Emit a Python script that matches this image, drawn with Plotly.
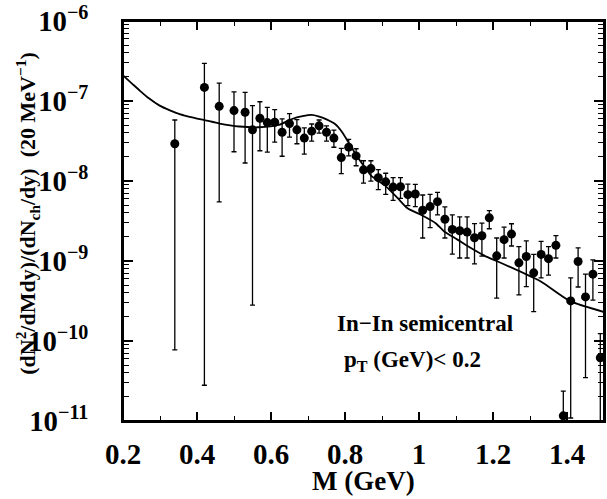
import plotly.graph_objects as go
import numpy as np

# ---- data ----
mass = [0.34, 0.42, 0.46, 0.50, 0.53, 0.55, 0.57, 0.59, 0.61, 0.63, 0.65, 0.67, 0.69, 0.71,
        0.73, 0.75, 0.77, 0.79, 0.81, 0.83, 0.85, 0.87, 0.89, 0.91, 0.93, 0.95, 0.97, 0.99,
        1.01, 1.03, 1.05, 1.07, 1.09, 1.11, 1.13, 1.15, 1.17, 1.19, 1.21, 1.23, 1.25, 1.27,
        1.29, 1.31, 1.33, 1.35, 1.37, 1.39, 1.41, 1.43, 1.45, 1.47, 1.49]
yield_val = [2.92e-8, 1.48e-7, 8.57e-8, 7.59e-8, 7.23e-8, 4.36e-8, 6.08e-8, 5.37e-8, 5.42e-8,
             4.07e-8, 5.22e-8, 4.36e-8, 3.44e-8, 4.20e-8, 4.89e-8, 4.07e-8, 3.44e-8, 1.96e-8,
             2.65e-8, 2.06e-8, 1.38e-8, 1.43e-8, 1.10e-8, 9.77e-9, 8.39e-9, 8.47e-9, 6.75e-9,
             6.87e-9, 4.31e-9, 4.79e-9, 5.52e-9, 3.33e-9, 2.48e-9, 2.39e-9, 2.30e-9, 1.95e-9,
             2.07e-9, 3.46e-9, 1.16e-9, 1.85e-9, 2.17e-9, 9.48e-10, 1.14e-9, 7.11e-10, 1.21e-9,
             1.07e-9, 1.57e-9, 1.16e-11, 3.17e-10, 9.86e-10, 3.56e-10, 6.85e-10, 6.17e-11]
yield_hi = [5.79e-8, 2.95e-7, 1.67e-7, 1.30e-7, 1.28e-7, 8.75e-8, 9.79e-8, 8.34e-8, 7.80e-8,
            5.97e-8, 6.95e-8, 5.86e-8, 4.61e-8, 5.16e-8, 5.79e-8, 4.89e-8, 4.32e-8, 2.56e-8,
            3.31e-8, 2.53e-8, 1.79e-8, 1.79e-8, 1.39e-8, 1.25e-8, 1.10e-8, 1.10e-8, 9.14e-9,
            9.06e-9, 6.68e-9, 6.81e-9, 7.19e-9, 4.74e-9, 3.78e-9, 3.56e-9, 3.56e-9, 2.94e-9,
            2.97e-9, 4.27e-9, 1.94e-9, 2.65e-9, 2.92e-9, 1.51e-9, 1.78e-9, 1.21e-9, 1.76e-9,
            1.51e-9, 2.07e-9, 2.36e-11, 6.17e-10, 1.46e-9, 6.85e-10, 1.03e-9, 1.24e-10]
yield_lo = [7.76e-11, 2.80e-11, 5.47e-9, 2.32e-8, 1.68e-8, 2.81e-10, 2.39e-8, 2.30e-8, 3.06e-8,
            2.04e-8, 3.53e-8, 2.92e-8, 2.17e-8, 3.16e-8, 3.96e-8, 3.16e-8, 2.64e-8, 1.24e-8,
            2.06e-8, 1.55e-8, 9.42e-9, 9.98e-9, 7.78e-9, 6.81e-9, 5.73e-9, 6.07e-9, 4.92e-9,
            4.79e-9, 1.94e-9, 2.62e-9, 3.78e-9, 1.94e-9, 1.22e-9, 1.09e-9, 1.09e-9, 9.20e-10,
            1.15e-9, 2.53e-9, 3.43e-10, 1.09e-9, 1.54e-9, 3.77e-10, 4.78e-10, 2.33e-10, 6.17e-10,
            6.67e-10, 1.09e-9, 1e-12, 1.09e-11, 4.73e-10, 3.48e-11, 3.24e-10, 1e-12]

model_m = [0.20, 0.225, 0.246, 0.27, 0.299, 0.325, 0.353, 0.39, 0.4225, 0.461, 0.514, 0.567,
           0.621, 0.657, 0.685, 0.71, 0.728, 0.75, 0.773, 0.791, 0.809, 0.831, 0.853, 0.871,
           0.907, 0.943, 0.969, 1.005, 1.045, 1.068, 1.104, 1.139, 1.179, 1.211, 1.327,
           1.407, 1.50]
model_y = [2.09e-7, 1.64e-7, 1.34e-7, 1.08e-7, 8.75e-8, 7.70e-8, 6.87e-8, 6.20e-8, 5.74e-8,
           5.22e-8, 4.80e-8, 4.70e-8, 5.02e-8, 5.96e-8, 6.45e-8, 6.70e-8, 6.44e-8, 5.90e-8,
           5.16e-8, 4.16e-8, 3.06e-8, 2.09e-8, 1.50e-8, 1.16e-8, 8.89e-9, 6.07e-9, 4.56e-9,
           3.78e-9, 2.97e-9, 2.34e-9, 1.85e-9, 1.46e-9, 1.15e-9, 9.95e-10, 5.61e-10, 3.17e-10,
           2.30e-10]

err_plus = (np.array(yield_hi) - np.array(yield_val)).tolist()
err_minus = (np.array(yield_val) - np.array(yield_lo)).tolist()

FONT = "Liberation Serif"

fig = go.Figure()
fig.add_trace(go.Scatter(
    x=model_m, y=model_y, mode="lines",
    line=dict(color="black", width=1.8, shape="spline", smoothing=0.6),
    showlegend=False, hoverinfo="skip"))
fig.add_trace(go.Scatter(
    x=mass, y=yield_val, mode="markers",
    marker=dict(color="black", size=9),
    error_y=dict(type="data", symmetric=False, array=err_plus, arrayminus=err_minus,
                 color="black", thickness=1.3, width=2.5),
    showlegend=False))
# invisible helper trace so that the top axis (ticks) is drawn
fig.add_trace(go.Scatter(x=[mass[0]], y=[yield_val[0]], xaxis="x2", yaxis="y",
                         mode="markers", marker=dict(opacity=0), showlegend=False,
                         hoverinfo="skip"))

common = dict(showline=True, linecolor="black", linewidth=2,
              ticks="inside", tickcolor="black", tickwidth=1.5,
              showgrid=False, zeroline=False)

x_minor = dict(ticks="inside", dtick=0.1, ticklen=5, tickcolor="black",
               tickwidth=1.2, showgrid=False)

fig.update_layout(
    xaxis=dict(range=[0.2, 1.5], tickmode="linear", tick0=0.2, dtick=0.2, ticklen=9,
               minor=x_minor, mirror=False,
               tickfont=dict(family=FONT, size=29, color="black", weight="bold"),
               ticklabelstandoff=6, **common),
    xaxis2=dict(range=[0.2, 1.5], matches="x", overlaying="x", side="top", anchor="y",
                tickmode="linear", tick0=0.2, dtick=0.2, ticklen=9, minor=x_minor,
                showticklabels=False, **common),
    yaxis=dict(type="log", range=[-11, -6], dtick=1, exponentformat="power", ticklen=10,
               mirror="ticks", ticklabeloverflow="allow",
               minor=dict(ticks="inside", dtick="D1", ticklen=6, tickcolor="black",
                          tickwidth=1.2, showgrid=False),
               tickfont=dict(family=FONT, size=23, color="black", weight="bold"),
               ticklabelstandoff=28, **common),
)

ann_font = dict(family=FONT, size=23, color="black", weight="bold")
fig.add_annotation(xref="paper", yref="paper", x=0.4415, y=0.243, xanchor="left",
                   yanchor="middle", showarrow=False, text="In\u2212In semicentral",
                   font=ann_font)
fig.add_annotation(xref="paper", yref="paper", x=0.455, y=0.151, xanchor="left",
                   yanchor="middle", showarrow=False, text="p<sub>T</sub> (GeV)< 0.2",
                   font=ann_font)
# axis titles
fig.add_annotation(xref="paper", yref="paper", x=0.5, y=-0.149, xanchor="center",
                   yanchor="middle", showarrow=False, text="M (GeV)",
                   font=dict(family=FONT, size=27, color="black", weight="bold"))
fig.add_annotation(xref="paper", yref="paper", x=-0.2, y=0.52, xanchor="center",
                   yanchor="middle", showarrow=False, textangle=-90,
                   text="(dN<sup>2</sup>/dMdy)/(dN<sub>ch</sub>/dy)  (20 MeV<sup>\u22121</sup>)",
                   font=dict(family=FONT, size=22, color="black", weight="bold"))

# plot frame
fig.add_shape(type="rect", xref="paper", yref="paper", x0=0, x1=1, y0=0, y1=1,
              line=dict(color="black", width=2), fillcolor="rgba(0,0,0,0)", layer="above")

fig.update_layout(width=607, height=499, margin=dict(l=123, r=1, t=18, b=78),
                  plot_bgcolor="white", paper_bgcolor="white")

fig.write_html("out.html", config={"displayModeBar": False},
               post_script="document.body.style.margin='0';document.body.style.padding='0';")
